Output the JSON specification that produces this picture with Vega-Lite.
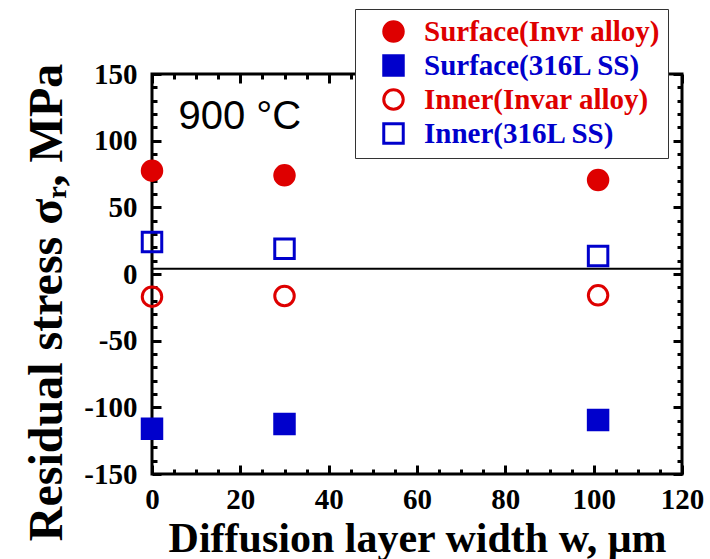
{
  "$schema": "https://vega.github.io/schema/vega-lite/v6.json",
  "width": 530,
  "height": 400,
  "autosize": "none",
  "padding": {"left": 152, "top": 74, "right": 28, "bottom": 85},
  "background": "white",
  "config": {
    "view": {"stroke": "black", "strokeWidth": 3},
    "axis": {
      "domain": false,
      "grid": false,
      "tickColor": "black",
      "tickWidth": 3,
      "labelColor": "black",
      "labelFont": "Liberation Serif",
      "labelFontWeight": "bold",
      "labelFontSize": 29,
      "labelFlush": false,
      "labelOverlap": false,
      "labelBound": false,
      "titleColor": "black",
      "titleFont": "Liberation Serif",
      "titleFontWeight": "bold",
      "titleFontSize": 44
    }
  },
  "datasets": {
    "points": [
      {"w": 0, "stress": 77.5, "series": "Surface(Invr alloy)"},
      {"w": 30, "stress": 74, "series": "Surface(Invr alloy)"},
      {"w": 101, "stress": 70.5, "series": "Surface(Invr alloy)"},
      {"w": 0, "stress": -116, "series": "Surface(316L SS)"},
      {"w": 30, "stress": -112.5, "series": "Surface(316L SS)"},
      {"w": 101, "stress": -109.5, "series": "Surface(316L SS)"},
      {"w": 0, "stress": -17, "series": "Inner(Invar alloy)"},
      {"w": 30, "stress": -16.5, "series": "Inner(Invar alloy)"},
      {"w": 101, "stress": -16, "series": "Inner(Invar alloy)"},
      {"w": 0, "stress": 24, "series": "Inner(316L SS)"},
      {"w": 30, "stress": 19, "series": "Inner(316L SS)"},
      {"w": 101, "stress": 13.5, "series": "Inner(316L SS)"}
    ],
    "zero": [{"stress": 4}],
    "note": [{"w": 6, "stress": 118, "label": "900 °C"}]
  },
  "layer": [
    {
      "data": {"name": "zero"},
      "mark": {"type": "rule", "color": "black", "strokeWidth": 2},
      "encoding": {
        "y": {
          "field": "stress", "type": "quantitative",
          "scale": {"domain": [-150, 150], "nice": false, "zero": false},
          "axis": {
            "orient": "left",
            "values": [-150,-140,-130,-120,-110,-100,-90,-80,-70,-60,-50,-40,-30,-20,-10,0,10,20,30,40,50,60,70,80,90,100,110,120,130,140,150],
            "labelExpr": "datum.value % 50 === 0 ? toString(datum.value) : ''",
            "tickSize": {"condition": {"test": "datum.value % 50 === 0", "value": -9}, "value": -5},
            "labelPadding": 24,
            "title": "Residual stress σᵣ, MPa",
            "titleFontSize": 48,
            "titlePadding": 12,
            "titleY": 228
          }
        }
      }
    },
    {
      "data": {"name": "note"},
      "mark": {"type": "text", "align": "left", "baseline": "middle", "font": "Liberation Sans", "fontSize": 40, "color": "black"},
      "encoding": {
        "x": {
          "field": "w", "type": "quantitative",
          "scale": {"domain": [0, 120], "nice": false, "zero": false},
          "axis": {
            "orient": "top",
            "values": [0,5,10,15,20,25,30,35,40,45,50,55,60,65,70,75,80,85,90,95,100,105,110,115,120],
            "labels": false,
            "tickSize": {"condition": {"test": "datum.value % 20 === 0", "value": -9}, "value": -5},
            "title": null
          }
        },
        "y": {
          "field": "stress", "type": "quantitative",
          "scale": {"domain": [-150, 150], "nice": false, "zero": false},
          "axis": {
            "orient": "right",
            "values": [-150,-140,-130,-120,-110,-100,-90,-80,-70,-60,-50,-40,-30,-20,-10,0,10,20,30,40,50,60,70,80,90,100,110,120,130,140,150],
            "labels": false,
            "tickSize": {"condition": {"test": "datum.value % 50 === 0", "value": -9}, "value": -5},
            "title": null
          }
        },
        "text": {"field": "label"}
      }
    },
    {
      "data": {"name": "points"},
      "mark": {"type": "point", "strokeWidth": 3, "opacity": 1, "size": 380},
      "encoding": {
        "x": {
          "field": "w", "type": "quantitative",
          "scale": {"domain": [0, 120], "nice": false, "zero": false},
          "axis": {
            "orient": "bottom",
            "values": [0,5,10,15,20,25,30,35,40,45,50,55,60,65,70,75,80,85,90,95,100,105,110,115,120],
            "labelExpr": "datum.value % 20 === 0 ? toString(datum.value) : ''",
            "tickSize": {"condition": {"test": "datum.value % 20 === 0", "value": -9}, "value": -5},
            "labelPadding": 20,
            "title": "Diffusion layer width w, μm",
            "titleFontSize": 42,
            "titlePadding": 0
          }
        },
        "y": {
          "field": "stress", "type": "quantitative",
          "scale": {"domain": [-150, 150], "nice": false, "zero": false},
          "axis": null
        },
        "shape": {
          "field": "series", "type": "nominal",
          "scale": {
            "domain": ["Surface(Invr alloy)", "Surface(316L SS)", "Inner(Invar alloy)", "Inner(316L SS)"],
            "range": ["circle", "square", "circle", "square"]
          },
          "legend": {
            "title": null,
            "orient": "none",
            "legendX": 203,
            "legendY": -65,
            "fillColor": "white",
            "strokeColor": "#333333",
            "padding": 8,
            "symbolSize": 380,
            "symbolStrokeWidth": 3,
            "symbolOffset": 16,
            "labelFont": "Liberation Serif",
            "labelFontWeight": "bold",
            "labelFontSize": 29,
            "labelOffset": 16,
            "labelLimit": 400,
            "rowPadding": 1,
            "zindex": 1,
            "labelColor": {"expr": "indexof(datum.label, 'Inv') >= 0 ? '#de0000' : '#0000cc'"}
          }
        },
        "fill": {
          "field": "series", "type": "nominal",
          "scale": {
            "domain": ["Surface(Invr alloy)", "Surface(316L SS)", "Inner(Invar alloy)", "Inner(316L SS)"],
            "range": ["#de0000", "#0000cc", "transparent", "transparent"]
          },
          "legend": {
            "title": null,
            "orient": "none",
            "legendX": 203,
            "legendY": -65
          }
        },
        "stroke": {
          "field": "series", "type": "nominal",
          "scale": {
            "domain": ["Surface(Invr alloy)", "Surface(316L SS)", "Inner(Invar alloy)", "Inner(316L SS)"],
            "range": ["#de0000", "#0000cc", "#de0000", "#0000cc"]
          },
          "legend": {
            "title": null,
            "orient": "none",
            "legendX": 203,
            "legendY": -65
          }
        }
      }
    }
  ],
  "resolve": {"axis": {"x": "independent", "y": "independent"}}
}
